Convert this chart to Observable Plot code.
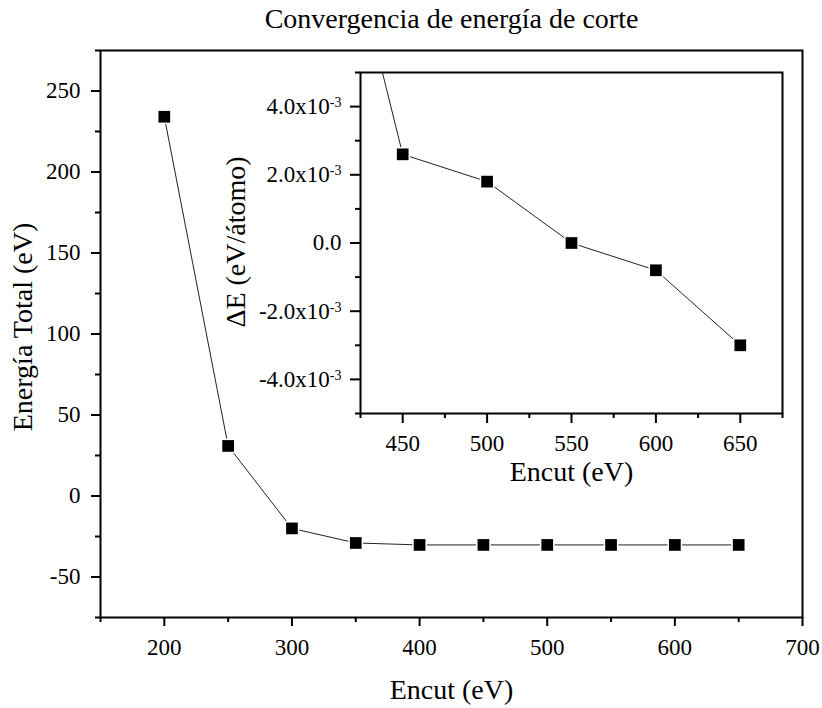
<!DOCTYPE html>
<html>
<head>
<meta charset="utf-8">
<script src="https://cdn.jsdelivr.net/npm/d3@7"></script>
<script src="https://cdn.jsdelivr.net/npm/@observablehq/plot@0.6"></script>
<style>
  html, body { margin: 0; padding: 0; background: white; overflow: hidden; }
  #wrap { position: relative; width: 822px; height: 708px; }
  #inset { position: absolute; left: 200px; top: 60px; }
</style>
</head>
<body>
<div id="wrap"><div id="main"></div><div id="inset"></div></div>
<script>
// ---- data ----
const encut = [200, 250, 300, 350, 400, 450, 500, 550, 600, 650];
const energia = [234.1, 30.9, -20.0, -29.0, -30.2, -30.2, -30.2, -30.2, -30.2, -30.2];

const insetEncut = [400, 450, 500, 550, 600, 650];
const deltaE = [0.0126, 0.0026, 0.0018, 0.0, -0.0008, -0.0030];

const mainXTicks = [200, 300, 400, 500, 600, 700];
const mainXMinor = [150, 250, 350, 450, 550, 650];
const mainYTicks = [-50, 0, 50, 100, 150, 200, 250];
const mainYMinor = [-75, -25, 25, 75, 125, 175, 225, 275];

const insetXTicks = [450, 500, 550, 600, 650];
const insetXMinor = [425, 475, 525, 575, 625, 675];
const insetYTicks = [-0.004, -0.002, 0, 0.002, 0.004];
const insetYMinor = [-0.005, -0.003, -0.001, 0.001, 0.003, 0.005];
const insetYLabels = ["-4.0x10^-3", "-2.0x10^-3", "0.0", "2.0x10^-3", "4.0x10^-3"];

const title = "Convergencia de energía de corte";
const xLabel = "Encut (eV)";
const yLabel = "Energía Total (eV)";
const insetYLabel = "ΔE (eV/átomo)";

const FONT = "'Liberation Serif', 'Times New Roman', serif";

const mainData = encut.map((x, i) => ({x, y: energia[i]}));
const insetData = insetEncut.map((x, i) => ({x, y: deltaE[i]}));

const lbl = {textAnchor: "middle", lineAnchor: "middle", fontSize: 28, fontFamily: FONT};

const main = Plot.plot({
  width: 822,
  height: 708,
  marginLeft: 100,
  marginRight: 20,
  marginTop: 50,
  marginBottom: 91,
  style: {fontFamily: FONT, fontSize: "23px", background: "white", color: "black"},
  x: {domain: [150, 700]},
  y: {domain: [-75, 275]},
  marks: [
    Plot.frame({strokeWidth: 2}),
    Plot.axisX(mainXTicks, {anchor: "bottom", tickSize: 9, tickPadding: 12, strokeWidth: 2, tickFormat: d => String(d), label: null, fontSize: 23, fontFamily: FONT}),
    Plot.axisX(mainXMinor, {anchor: "bottom", tickSize: 5, strokeWidth: 2, tickFormat: () => "", label: null}),
    Plot.axisY(mainYTicks, {anchor: "left", tickSize: 9, tickPadding: 11, strokeWidth: 2, tickFormat: d => String(d), label: null, fontSize: 23, fontFamily: FONT}),
    Plot.axisY(mainYMinor, {anchor: "left", tickSize: 5, strokeWidth: 2, tickFormat: () => "", label: null}),
    Plot.line(mainData, {x: "x", y: "y", stroke: "#222", strokeWidth: 1}),
    Plot.dot(mainData, {x: "x", y: "y", symbol: "square", r: 6.6, fill: "black", stroke: "white", strokeWidth: 3, paintOrder: "stroke"}),
    Plot.text([title], {...lbl, text: d => d, frameAnchor: "top", dy: -31}),
    Plot.text([xLabel], {...lbl, text: d => d, frameAnchor: "bottom", dy: 73}),
    Plot.text([yLabel], {...lbl, text: d => d, frameAnchor: "left", dx: -77, dy: -7, rotate: -90})
  ]
});
document.getElementById("main").appendChild(main);

const inset = Plot.plot({
  width: 600,
  height: 440,
  marginLeft: 160,
  marginRight: 18,
  marginTop: 12,
  marginBottom: 87,
  style: {fontFamily: FONT, fontSize: "23px", background: "transparent", color: "black"},
  x: {domain: [425, 675]},
  y: {domain: [-0.005, 0.005]},
  marks: [
    Plot.frame({strokeWidth: 2}),
    Plot.axisX(insetXTicks, {anchor: "bottom", tickSize: 10, tickPadding: 11, strokeWidth: 2, tickFormat: d => String(d), label: null, fontSize: 23, fontFamily: FONT}),
    Plot.axisX(insetXMinor, {anchor: "bottom", tickSize: 5, strokeWidth: 2, tickFormat: () => "", label: null}),
    Plot.axisY(insetYTicks, {anchor: "left", tickSize: 10, tickPadding: 9, strokeWidth: 2, tickFormat: d => insetYLabels[insetYTicks.indexOf(d)], label: null, fontSize: 23, fontFamily: FONT}),
    Plot.axisY(insetYMinor, {anchor: "left", tickSize: 5, strokeWidth: 2, tickFormat: () => "", label: null}),
    Plot.line(insetData, {x: "x", y: "y", stroke: "#222", strokeWidth: 1, clip: true}),
    Plot.dot(insetData, {x: "x", y: "y", symbol: "square", r: 6.6, fill: "black", stroke: "white", strokeWidth: 3, paintOrder: "stroke", clip: true}),
    Plot.text([xLabel], {...lbl, text: d => d, frameAnchor: "bottom", dy: 59}),
    Plot.text([insetYLabel], {...lbl, text: d => d, frameAnchor: "left", dx: -124, dy: -1, rotate: -90})
  ]
});
document.getElementById("inset").appendChild(inset);

// force serif font everywhere, and tick label size
for (const svg of [main, inset]) {
  d3.select(svg).selectAll("text").style("font-family", FONT);
  d3.select(svg).selectAll("g").filter(function () {
    const a = this.getAttribute("aria-label") || "";
    return a.includes("tick label");
  }).selectAll("text").style("font-size", "23px");
}

// superscript exponents on inset tick labels
d3.select(inset).selectAll("text").each(function () {
  const t = this.textContent;
  if (t.includes("^")) {
    const [base, exp] = t.split("^");
    const sel = d3.select(this);
    sel.text("");
    sel.append("tspan").text(base);
    sel.append("tspan").style("font-size", "14px").attr("dy", -7).text(exp);
  }
});
</script>
</body>
</html>
